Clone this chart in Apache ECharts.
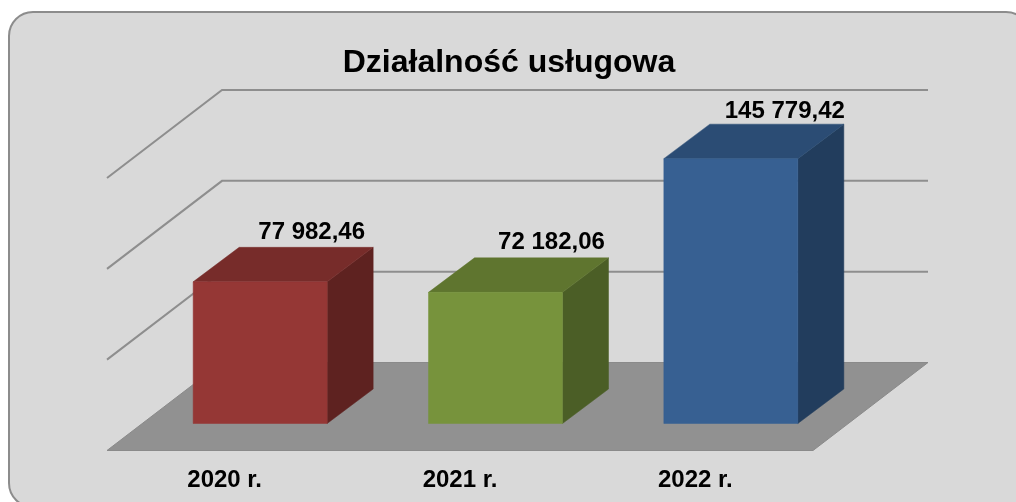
<!DOCTYPE html>
<html>
<head>
<meta charset="utf-8">
<style>html,body{margin:0;padding:0;background:#fff}#c{width:1016px;height:502px}</style>
<script src="https://cdn.jsdelivr.net/npm/echarts@6/dist/echarts.min.js"></script>
</head>
<body>
<div id="c"></div>
<script>
const titleText = 'Działalność usługowa';
const categories = ['2020 r.', '2021 r.', '2022 r.'];
const values = [77982.46, 72182.06, 145779.42];
const valueLabels = ['77 982,46', '72 182,06', '145 779,42'];
const yTicks = [50000, 100000, 150000];
const faceColors = ['#953735', '#77933c', '#376092'];
const topColors = ['#772c2a', '#5f752f', '#2b4c74'];
const sideColors = ['#5e2220', '#4b5e26', '#223d5d'];

const FONT = '"Liberation Sans", Arial, sans-serif';
const WALL = { dx: 115, dy: -88 };     // floor depth
const OFFSET = { dx: 35.5, dy: -27 };  // bar front from the floor's front edge
const DEPTH = { dx: 46, dy: -34.5 };   // bar depth
const BAR_W = 134;
const labelShiftX = [5.5, 10, 8];
const labelShiftY = [-1, -1, 1];

const chart = echarts.init(document.getElementById('c'), null, { renderer: 'canvas' });

function poly(points, fill) {
  return { type: 'polygon', shape: { points }, style: { fill, stroke: fill, lineWidth: 0.5 } };
}

chart.setOption({
  animation: false,
  backgroundColor: '#ffffff',
  title: {
    text: titleText, left: 504, top: 42, textAlign: 'center',
    textStyle: { fontFamily: FONT, fontWeight: 'bold', fontSize: 32, color: '#000' }
  },
  graphic: [{
    type: 'rect', z: -10, silent: true,
    shape: { x: 9, y: 12, width: 1021, height: 495, r: 24 },
    style: { fill: '#d9d9d9', stroke: '#8c8c8c', lineWidth: 2 }
  }],
  grid: { left: 107, width: 706, top: 178, height: 272.5 },
  xAxis: {
    type: 'category', data: categories,
    axisLine: { show: false }, axisTick: { show: false }, splitLine: { show: false },
    axisLabel: { margin: 18, fontFamily: FONT, fontWeight: 'bold', fontSize: 24, color: '#000' }
  },
  yAxis: {
    type: 'value', min: 0, max: 150000, interval: 50000, show: false, splitLine: { show: false }
  },
  series: [
    {
      type: 'custom', z: 1, silent: true,
      data: [[0, 0]], encode: { x: 0, y: 1 },
      renderItem(params, api) {
        const c = params.coordSys, p = api.coord([0, 0])[1], r = c.x + c.width;
        return {
          type: 'polygon',
          shape: { points: [[c.x, p], [r, p], [r + WALL.dx, p + WALL.dy], [c.x + WALL.dx, p + WALL.dy]] },
          style: { fill: '#919191', stroke: '#8a8a8a', lineWidth: 1 }
        };
      }
    },
    {
      type: 'custom', z: 2, silent: true,
      data: yTicks.map(v => [0, v]), encode: { x: 0, y: 1 },
      renderItem(params, api) {
        const c = params.coordSys, y = api.coord([0, api.value(1)])[1], r = c.x + c.width;
        return {
          type: 'polyline',
          shape: { points: [[c.x, y], [c.x + WALL.dx, y + WALL.dy], [r + WALL.dx, y + WALL.dy]] },
          style: { stroke: '#8e8e8e', lineWidth: 2, fill: 'none' }
        };
      }
    },
    {
      type: 'custom', z: 3, silent: true,
      data: values.map((v, i) => [i, v]), encode: { x: 0, y: 1 },
      renderItem(params, api) {
        const i = params.dataIndex;
        const base = api.coord([i, 0]), top = api.coord([i, api.value(1)]);
        const l = base[0] + OFFSET.dx - BAR_W / 2, r = l + BAR_W;
        const by = base[1] + OFFSET.dy, ty = top[1] + OFFSET.dy;
        const d = DEPTH;
        return {
          type: 'group',
          children: [
            poly([[r, ty], [r + d.dx, ty + d.dy], [r + d.dx, by + d.dy], [r, by]], sideColors[i]),
            poly([[l, ty], [l + d.dx, ty + d.dy], [r + d.dx, ty + d.dy], [r, ty]], topColors[i]),
            poly([[l, ty], [r, ty], [r, by], [l, by]], faceColors[i]),
            {
              type: 'text',
              style: {
                x: (l + r) / 2 + d.dx + labelShiftX[i], y: ty + d.dy - 2 + labelShiftY[i],
                text: valueLabels[i], align: 'center', verticalAlign: 'bottom',
                font: 'bold 24px ' + FONT, fill: '#000'
              }
            }
          ]
        };
      }
    }
  ]
});
</script>
</body>
</html>
